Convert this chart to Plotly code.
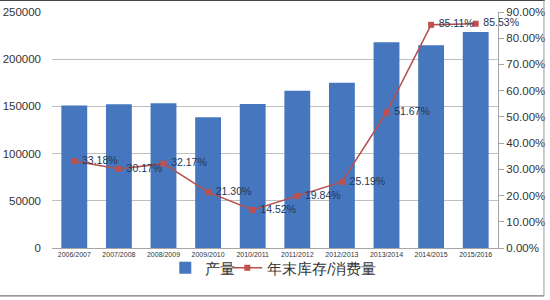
import plotly.graph_objects as go

categories = ["2006/2007", "2007/2008", "2008/2009", "2009/2010", "2010/2011",
              "2011/2012", "2012/2013", "2013/2014", "2014/2015", "2015/2016"]
production = [151000, 152200, 153300, 138400, 152500, 166600, 175100, 217900, 214700, 228800]
stock_ratio = [0.3318, 0.3017, 0.3217, 0.2130, 0.1452, 0.1984, 0.2519, 0.5167, 0.8511, 0.8553]
ratio_labels = ["33.18%", "30.17%", "32.17%", "21.30%", "14.52%", "19.84%", "25.19%", "51.67%", "85.11%", "85.53%"]

font_family = "Liberation Sans, Arial, sans-serif"

fig = go.Figure()
fig.add_trace(go.Bar(
    x=categories, y=production, name="产量",
    marker=dict(color="#4677BE", line=dict(width=0)),
    width=0.58, yaxis="y", legend="legend",
))
fig.add_trace(go.Scatter(
    x=categories, y=stock_ratio, name="年末库存/消费量",
    mode="lines+markers+text",
    line=dict(color="#B5504C", width=1.5),
    marker=dict(symbol="square", size=6, color="#C0504D"),
    text=ratio_labels, texttemplate=" %{text}", textposition="middle right",
    textfont=dict(size=10.5, color="#243654", family=font_family),
    yaxis="y2", cliponaxis=False, legend="legend2",
))

legend_style = dict(orientation="h", y=-0.085, xanchor="left", yanchor="middle",
                    font=dict(size=15, color="#333333"), itemwidth=30,
                    bgcolor="rgba(0,0,0,0)")

fig.update_layout(
    width=550, height=300,
    margin=dict(l=52, r=52, t=12, b=52, autoexpand=False),
    paper_bgcolor="white", plot_bgcolor="white",
    font=dict(family=font_family, color="#333333"),
    showlegend=True,
    legend=dict(x=0.254, **legend_style),
    legend2=dict(x=0.393, **legend_style),
    bargap=0.42,
    xaxis=dict(
        range=[-0.5, 9.5], autorange=False,
        tickfont=dict(size=7, color="#333333"),
        showline=True, linecolor="#A6A6A6", linewidth=1,
        ticks="", showgrid=False, automargin=False,
    ),
    yaxis=dict(
        range=[0, 250000], dtick=50000, tickformat="d",
        tickfont=dict(size=11.5, color="#333333"),
        showgrid=True, gridcolor="#BFBFBF", gridwidth=1,
        zeroline=False, showline=False, ticks="", automargin=False, ticklabelstandoff=10,
    ),
    yaxis2=dict(
        range=[0, 0.9], dtick=0.1, tickformat=".2%",
        overlaying="y", side="right",
        tickfont=dict(size=11.5, color="#333333"),
        showgrid=False, zeroline=False, automargin=False,
        showline=True, linecolor="#A6A6A6", linewidth=1,
        ticks="outside", ticklen=5, tickcolor="#A6A6A6",
    ),
    shapes=[
        dict(type="line", xref="paper", yref="paper", x0=-0.12, x1=1.105, y0=1.05, y1=1.05,
             line=dict(color="#444444", width=1.5)),
        dict(type="line", xref="paper", yref="paper", x0=-0.12, x1=1.103, y0=-0.203, y1=-0.203,
             line=dict(color="#555555", width=1)),
        dict(type="line", xref="paper", yref="paper", x0=1.103, x1=1.103, y0=-0.203, y1=1.05,
             line=dict(color="#999999", width=1)),
    ],
)

fig.write_html("out.html")
